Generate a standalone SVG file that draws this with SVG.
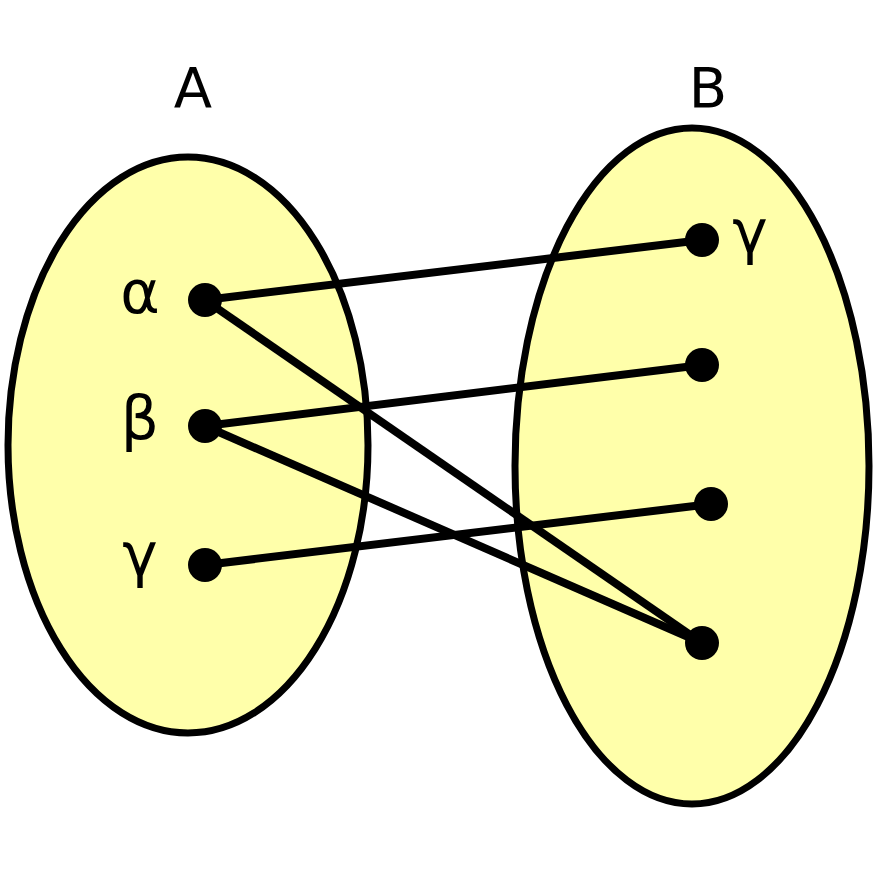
<svg xmlns="http://www.w3.org/2000/svg" width="885" height="870" viewBox="0 0 885 870">
<style>
.set{fill:#ffffaa;stroke:#000;stroke-width:7}
.dot{fill:#000}
.lbl{font-family:"DejaVu Sans",sans-serif;font-size:56px;fill:#000;text-anchor:middle}
.gr{font-size:60px}
.edge{stroke:#000;stroke-width:8;fill:none}
</style>
<rect width="885" height="870" fill="#fff"/>
<g id="setA"><ellipse class="set" cx="188" cy="445" rx="180" ry="288"/><text class="lbl" x="193" y="107">A</text></g>
<g id="setB"><ellipse class="set" cx="692" cy="466" rx="177" ry="338"/><text class="lbl" x="708" y="107">B</text></g>
<g id="connectors">
<line class="edge" x1="205" y1="300" x2="702" y2="240"/>
<line class="edge" x1="205" y1="300" x2="702" y2="643"/>
<line class="edge" x1="205" y1="426" x2="702" y2="365"/>
<line class="edge" x1="205" y1="426" x2="702" y2="643"/>
<line class="edge" x1="205" y1="565" x2="711" y2="504"/>
</g>
<g id="a-alpha"><circle class="dot" cx="205" cy="300" r="17"/><text class="lbl gr" x="140" y="313">α</text></g>
<g id="a-beta"><circle class="dot" cx="205" cy="426" r="17"/><text class="lbl gr" x="140" y="439">β</text></g>
<g id="a-gamma"><circle class="dot" cx="205" cy="565" r="17"/><text class="lbl gr" x="140" y="575">γ</text></g>
<g id="b1"><circle class="dot" cx="702" cy="240" r="17"/><text class="lbl gr" x="750" y="252">γ</text></g>
<g id="b2"><circle class="dot" cx="702" cy="365" r="17"/></g>
<g id="b3"><circle class="dot" cx="711" cy="504" r="17"/></g>
<g id="b4"><circle class="dot" cx="702" cy="643" r="17"/></g>
</svg>
